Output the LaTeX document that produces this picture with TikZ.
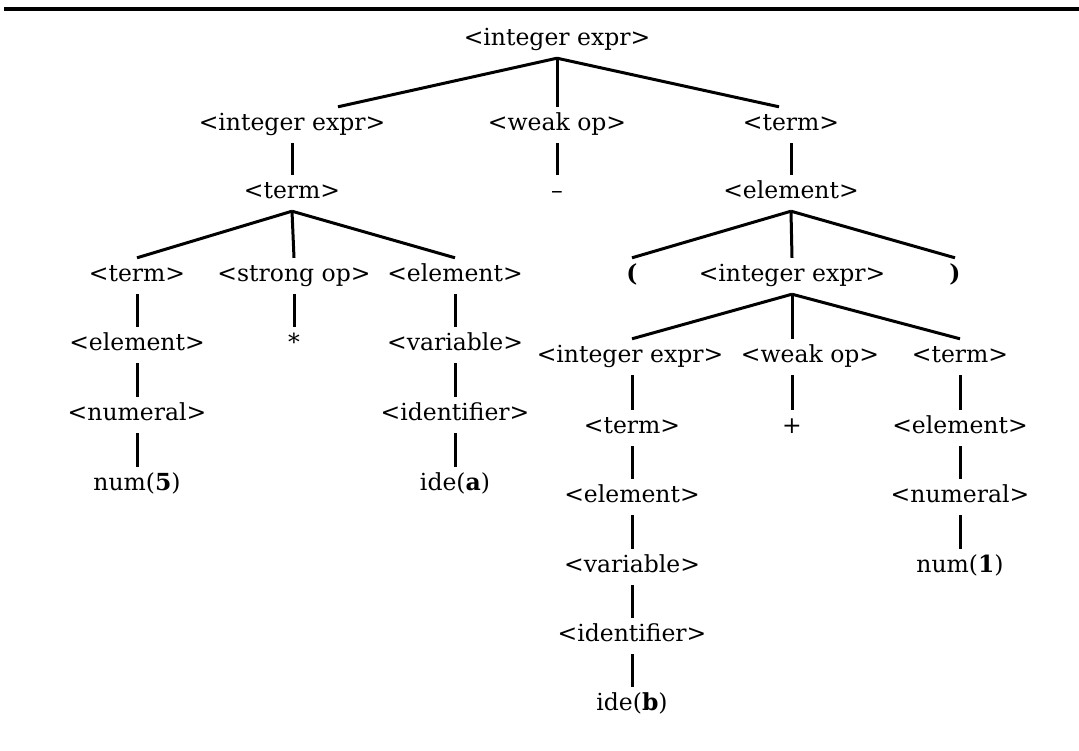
\documentclass[tikz,border=0pt]{standalone}
\usepackage{fontspec}
\setmainfont{DejaVu Serif}
\tikzset{
  sym/.style={font=\fontsize{23.5}{28}\selectfont, inner sep=0pt, minimum height=36pt, text height=17pt, text depth=6pt},
  br/.style={line width=3pt}
}
\begin{document}
\begin{tikzpicture}[x=1pt,y=-1pt]
\useasboundingbox (0,0) rectangle (1079,750);
\draw[line width=3.5pt] (4,9) -- (1079,9);
% Level 0
\draw (557,40) node(n0)[sym] {<integer expr>};
% Level 1
\draw (292,125) node(n11)[sym] {<integer expr>} +(265,0) node(n12)[sym] {<weak op>} +(499,0) node(n13)[sym] {<term>};
% Level 2
\draw (292,193) node(n21)[sym] {<term>} +(265,0) node(n22)[sym] {--} +(499,0) node(n23)[sym] {<element>};
% Level 3
\draw (137,276) node(n31)[sym] {<term>} +(157,0) node(n32)[sym] {<strong op>} +(318,0) node(n33)[sym] {<element>};
\draw (632,276) node(n34)[sym] {\textbf{(}} +(160,0) node(n35)[sym] {<integer expr>} +(323,0) node(n36)[sym] {\textbf{)}};
% Left subtree
\draw (137,345) node(n41)[sym] {<element>} +(157,0) node(n42)[sym] {*} +(318,0) node(n43)[sym] {<variable>};
\draw (137,415) node(n51)[sym] {<numeral>} +(318,0) node(n53)[sym] {<identifier>};
\draw (137,485) node(n61)[sym] {num(\textbf{5})} +(318,0) node(n63)[sym] {ide(\textbf{a})};
% Right subtree
\draw (630,357) node(p11)[sym] {<integer expr>} +(180,0) node(p12)[sym] {<weak op>} +(330,0) node(p13)[sym] {<term>};
\draw (632,428) node(p21)[sym] {<term>} +(160,0) node(p22)[sym] {+} +(328,0) node(p23)[sym] {<element>};
\draw (632,497) node(p31)[sym] {<element>} +(328,0) node(p33)[sym] {<numeral>};
\draw (632,567) node(p41)[sym] {<variable>} +(328,0) node(p43)[sym] {num(\textbf{1})};
\draw (632,636) node(p51)[sym] {<identifier>};
\draw (632,705) node(p61)[sym] {ide(\textbf{b})};
% Branches from the root
\draw[br] (n0.south) -- ([xshift=46pt]n11.north);
\draw[br] (n0.south) -- (n12.north);
\draw[br] (n0.south) -- ([xshift=-12pt]n13.north);
\draw[br] (n11) -- (n21);
\draw[br] (n12) -- (n22);
\draw[br] (n13) -- (n23);
% Branches of level 2
\draw[br] (n21.south) -- (n31.north);
\draw[br] (n21.south) -- (n32.north);
\draw[br] (n21.south) -- (n33.north);
\draw[br] (n23.south) -- (n34.north);
\draw[br] (n23.south) -- (n35.north);
\draw[br] (n23.south) -- (n36.north);
% Left chains
\draw[br] (n31) -- (n41);
\draw[br] (n41) -- (n51);
\draw[br] (n51) -- (n61);
\draw[br] (n32) -- (n42);
\draw[br] (n33) -- (n43);
\draw[br] (n43) -- (n53);
\draw[br] (n53) -- (n63);
% Right chains
\draw[br] (n35.south) -- ([xshift=2pt]p11.north);
\draw[br] (n35.south) -- ([xshift=-18pt]p12.north);
\draw[br] (n35.south) -- (p13.north);
\draw[br] ([xshift=2pt]p11.south) -- (p21.north);
\draw[br] (p21) -- (p31);
\draw[br] (p31) -- (p41);
\draw[br] (p41) -- (p51);
\draw[br] (p51) -- (p61);
\draw[br] ([xshift=-18pt]p12.south) -- (p22.north);
\draw[br] (p13) -- (p23);
\draw[br] (p23) -- (p33);
\draw[br] (p33) -- (p43);
\end{tikzpicture}
\end{document}
